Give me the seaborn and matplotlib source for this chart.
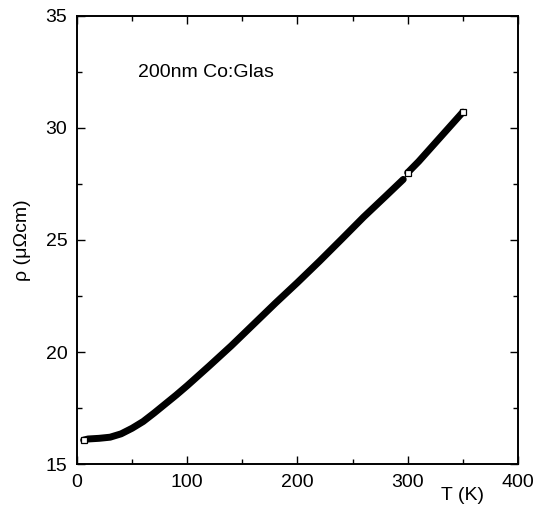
import matplotlib
matplotlib.use("Agg")
import matplotlib.pyplot as plt
import seaborn as sns
import pandas as pd
from matplotlib.ticker import MultipleLocator

# Segment 1 (low T up to ~296 K)
T_low = [6, 10, 20, 30, 40, 50, 60, 70, 80, 90, 100, 120, 140, 160, 180,
         200, 220, 240, 260, 280, 296]
rho_low = [16.07, 16.12, 16.15, 16.2, 16.35, 16.6, 16.9, 17.28, 17.68, 18.08,
           18.5, 19.38, 20.28, 21.23, 22.18, 23.1, 24.05, 25.03, 26.02, 26.95, 27.7]
# Segment 2 (~300 K to 350 K)
T_high = [300, 310, 320, 330, 340, 350]
rho_high = [28.0, 28.5, 29.05, 29.6, 30.15, 30.7]

label_text = "200nm Co:Glas"
xlabel = "T (K)"
ylabel = "ρ (μΩcm)"

sns.set_theme(style="ticks")
plt.rcParams["font.family"] = ["Liberation Sans", "DejaVu Sans"]

df_low = pd.DataFrame({"T": T_low, "rho": rho_low})
df_high = pd.DataFrame({"T": T_high, "rho": rho_high})

fig = plt.figure(figsize=(5.35, 5.25), dpi=100)
ax = fig.add_axes([0.144, 0.116, 0.824, 0.854])

for d in (df_low, df_high):
    sns.lineplot(data=d, x="T", y="rho", ax=ax, color="black", linewidth=5.0,
                 sort=False, solid_capstyle="round")

# open square markers visible at the free ends of the data
ends = pd.DataFrame({"T": [T_low[0], T_high[0], T_high[-1]],
                     "rho": [rho_low[0], rho_high[0], rho_high[-1]]})
ax.plot(ends["T"], ends["rho"], linestyle="none", marker="s",
        markersize=4.8, markerfacecolor="white", markeredgecolor="black",
        markeredgewidth=0.9, zorder=5)

ax.set_xlim(0, 400)
ax.set_ylim(15, 35)
ax.xaxis.set_major_locator(MultipleLocator(100))
ax.xaxis.set_minor_locator(MultipleLocator(50))
ax.yaxis.set_major_locator(MultipleLocator(5))
ax.yaxis.set_minor_locator(MultipleLocator(2.5))
ax.tick_params(which="both", direction="in", top=True, right=True,
               colors="black", labelsize=14, width=1.0, pad=7)
ax.tick_params(which="major", length=5.8)
ax.tick_params(which="minor", length=3.6)
for s in ax.spines.values():
    s.set_linewidth(1.4)
    s.set_color("black")

ax.set_xlabel(xlabel, fontsize=14, color="black")
ax.set_ylabel(ylabel, fontsize=14, color="black")
ax.xaxis.set_label_coords(0.875, -0.05)
ax.yaxis.set_label_coords(-0.105, 0.5)

ax.text(55.3, 32.27, label_text, fontsize=14, color="black", va="baseline")

fig.savefig("out.png", dpi=100, facecolor="white")
